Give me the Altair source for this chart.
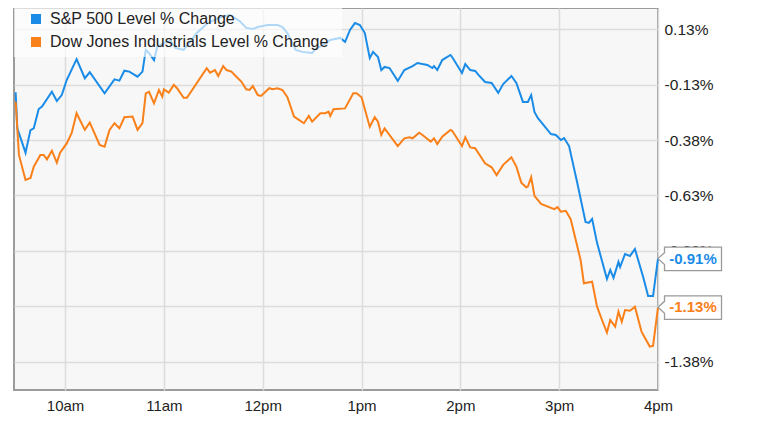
import altair as alt
import pandas as pd

# ---- data (minutes after 9:30 open, % change) ----
sp_minutes = [0, 1, 6, 9, 11, 14, 16, 22, 25, 28, 31, 37, 42, 45, 54, 60, 63, 66, 69, 74,
              77, 79, 81, 84, 86, 90, 94, 97, 102, 106, 110, 116, 123, 130, 136, 140, 144, 147, 153, 159,
              162, 165, 170, 174, 180, 183, 187, 191, 197, 200, 203, 206, 209, 212, 215, 217, 220, 222, 224, 227,
              232, 236, 241, 244, 247, 250, 253, 254, 256, 259, 264, 265, 271, 273, 276, 279, 281, 285, 289, 293,
              296, 301, 304, 308, 311, 313, 315, 317, 325, 328, 331, 333, 336, 341, 346, 348, 350, 353, 359, 361,
              363, 366, 367, 370, 373, 376, 381, 384, 387, 390]
sp_values = [-0.159, -0.322, -0.432, -0.330, -0.322, -0.235, -0.224, -0.157, -0.199, -0.172,
             -0.104, -0.010, -0.096, -0.069, -0.164, -0.101, -0.107, -0.062, -0.066, -0.089,
             -0.066, 0.032, 0.017, -0.014, 0.046, 0.063, 0.072, 0.041, 0.032, 0.068,
             0.108, 0.149, 0.176, 0.190, 0.162, 0.131, 0.126, 0.135, 0.144, 0.144,
             0.135, 0.108, 0.032, 0.023, 0.018, 0.041, 0.054, 0.077, 0.086, 0.068,
             0.122, 0.153, 0.144, 0.108, -0.005, 0.023, 0.000, -0.059, -0.045, -0.050,
             -0.108, -0.059, -0.041, -0.027, -0.032, -0.036, -0.050, -0.041, -0.059, -0.014,
             0.009, 0.000, -0.072, -0.032, -0.059, -0.063, -0.081, -0.113, -0.117, -0.162,
             -0.122, -0.086, -0.117, -0.203, -0.203, -0.172, -0.248, -0.275, -0.348, -0.352,
             -0.375, -0.366, -0.402, -0.569, -0.745, -0.749, -0.731, -0.839, -1.002, -0.961,
             -0.997, -0.925, -0.948, -0.889, -0.898, -0.867, -0.993, -1.079, -1.079, -0.910]

dow_minutes = [0, 2, 6, 9, 11, 15, 17, 19, 22, 25, 27, 31, 34, 37, 42, 45, 51, 54, 57, 60,
               63, 66, 71, 74, 77, 79, 81, 84, 87, 89, 90, 93, 96, 98, 102, 104, 116, 118, 121, 123,
               126, 128, 131, 134, 137, 140, 142, 144, 147, 149, 154, 156, 159, 162, 165, 169, 172, 175, 178, 180,
               185, 188, 190, 191, 193, 200, 205, 207, 210, 215, 218, 220, 222, 224, 232, 236, 239, 241, 245, 247,
               252, 254, 256, 259, 264, 265, 271, 273, 276, 279, 285, 289, 292, 296, 301, 304, 307, 310, 311, 313,
               315, 319, 327, 329, 331, 334, 337, 343, 345, 350, 353, 356, 359, 361, 364, 366, 368, 370, 373, 376,
               380, 385, 387, 390]
dow_values = [-0.202, -0.442, -0.555, -0.546, -0.495, -0.442, -0.442, -0.462, -0.423, -0.477,
              -0.432, -0.390, -0.344, -0.254, -0.329, -0.296, -0.397, -0.405, -0.329, -0.299,
              -0.322, -0.272, -0.269, -0.329, -0.299, -0.164, -0.157, -0.209, -0.149, -0.179,
              -0.146, -0.161, -0.126, -0.141, -0.184, -0.184, -0.051, -0.071, -0.059, -0.086,
              -0.041, -0.059, -0.066, -0.089, -0.111, -0.146, -0.149, -0.131, -0.172, -0.176,
              -0.141, -0.146, -0.141, -0.149, -0.182, -0.269, -0.284, -0.299, -0.266, -0.292,
              -0.254, -0.254, -0.247, -0.266, -0.236, -0.232, -0.164, -0.164, -0.182, -0.315,
              -0.272, -0.292, -0.352, -0.322, -0.402, -0.367, -0.362, -0.367, -0.342, -0.352,
              -0.382, -0.367, -0.393, -0.360, -0.329, -0.333, -0.402, -0.362, -0.408, -0.412,
              -0.480, -0.498, -0.533, -0.487, -0.453, -0.495, -0.567, -0.588, -0.585, -0.543,
              -0.627, -0.663, -0.687, -0.678, -0.698, -0.694, -0.732, -0.916, -1.021, -1.014,
              -1.127, -1.187, -1.244, -1.187, -1.217, -1.149, -1.195, -1.142, -1.145, -1.127,
              -1.240, -1.307, -1.304, -1.130]

series_names = ["S&P 500 Level % Change", "Dow Jones Industrials Level % Change"]
series_colors = ["#1a8ce8", "#fa8019"]
end_values = [-0.91, -1.13]
end_labels = ["-0.91%", "-1.13%"]
y_ticks = [0.125, -0.125, -0.375, -0.625, -0.875, -1.125, -1.375]
x_tick_hours = [10, 11, 12, 13, 14, 15, 16]

FONT = "Liberation Sans, Arial, sans-serif"
open_ts = pd.Timestamp("2019-05-13 09:30")
close_ts = pd.Timestamp("2019-05-13 16:00")

rows = []
for name, mins, vals in [(series_names[0], sp_minutes, sp_values),
                         (series_names[1], dow_minutes, dow_values)]:
    for m, v in zip(mins, vals):
        rows.append({"series": name, "time": open_ts + pd.Timedelta(minutes=m), "value": v})
df = pd.DataFrame(rows)

callout_df = pd.DataFrame({
    "series": series_names,
    "time": [close_ts, close_ts],
    "value": end_values,
    "label": end_labels,
})

def dt(h, m=0):
    return alt.DateTime(year=2019, month=5, date=13, hours=h, minutes=m)

x_scale = alt.Scale(domain=[dt(9, 29), dt(16, 0)], nice=False)
y_scale = alt.Scale(domain=[-1.503, 0.221], nice=False, zero=False)
color_scale = alt.Scale(domain=series_names, range=series_colors)

x_axis = alt.Axis(values=[dt(h) for h in x_tick_hours], format="%-I%p",
                  labelExpr="lower(datum.label)", title=None, domain=False, ticks=False,
                  grid=True, gridColor="#dcdcdc", gridWidth=1.5, labelFont=FONT,
                  labelFontSize=15, labelColor="#222222", labelPadding=8,
                  labelFlush=False, labelOverlap=False)
y_axis = alt.Axis(orient="right", values=y_ticks,
                  labelExpr="(datum.value < 0 ? '-' : '') + format(abs(datum.value), '.2f') + '%'",
                  title=None, domain=False, ticks=False, grid=True, gridColor="#dcdcdc",
                  gridWidth=1.5, labelFont=FONT, labelFontSize=15.5, labelColor="#222222",
                  labelPadding=6, labelFlush=False, labelOverlap=False)

lines = alt.Chart(df).mark_line(strokeWidth=2).encode(
    x=alt.X("time:T", scale=x_scale, axis=x_axis),
    y=alt.Y("value:Q", scale=y_scale, axis=y_axis),
    color=alt.Color("series:N", scale=color_scale,
                    legend=alt.Legend(title=None, orient="none", legendX=14, legendY=3,
                                      direction="vertical", symbolType="square",
                                      symbolSize=16, symbolStrokeWidth=6, symbolOpacity=1,
                                      labelFont=FONT, labelFontSize=16, labelColor="#222222",
                                      labelOffset=6, labelLimit=500, rowPadding=-5, padding=0)),
    order=alt.Order("time:T"),
)

legend_box = alt.Chart(pd.DataFrame({"box": [0]})).mark_rect(
    fill="white", opacity=0.65
).encode(x=alt.value(0), x2=alt.value(328), y=alt.value(0), y2=alt.value(49))

callout_path = "M0,0L0.65,-0.6L0.65,-1.15L6.35,-1.15L6.35,1.2L0.65,1.2L0.65,0.6Z"
boxes = alt.Chart(callout_df).mark_point(
    shape=callout_path, size=400, filled=True, fill="white", stroke="#9a9a9a",
    strokeWidth=1.3, opacity=1
).encode(x=alt.X("time:T", scale=x_scale), y=alt.Y("value:Q", scale=y_scale))

labels = alt.Chart(callout_df).mark_text(
    align="center", baseline="middle", dx=35, font=FONT, fontSize=15, fontWeight="bold"
).encode(
    x=alt.X("time:T", scale=x_scale),
    y=alt.Y("value:Q", scale=y_scale),
    text="label:N",
    color=alt.Color("series:N", scale=color_scale, legend=None),
)

chart = alt.layer(lines, legend_box, boxes, labels).properties(
    width=644, height=382,
    autosize=alt.AutoSizeParams(type="none"),
    padding={"left": 6, "top": 0, "right": 98, "bottom": 34},
).configure(background="white").configure_view(
    fill="#f7f7f7", stroke="#9b9b9b", strokeWidth=2
)

chart.save("out.html", embed_options={"renderer": "svg", "actions": False})
